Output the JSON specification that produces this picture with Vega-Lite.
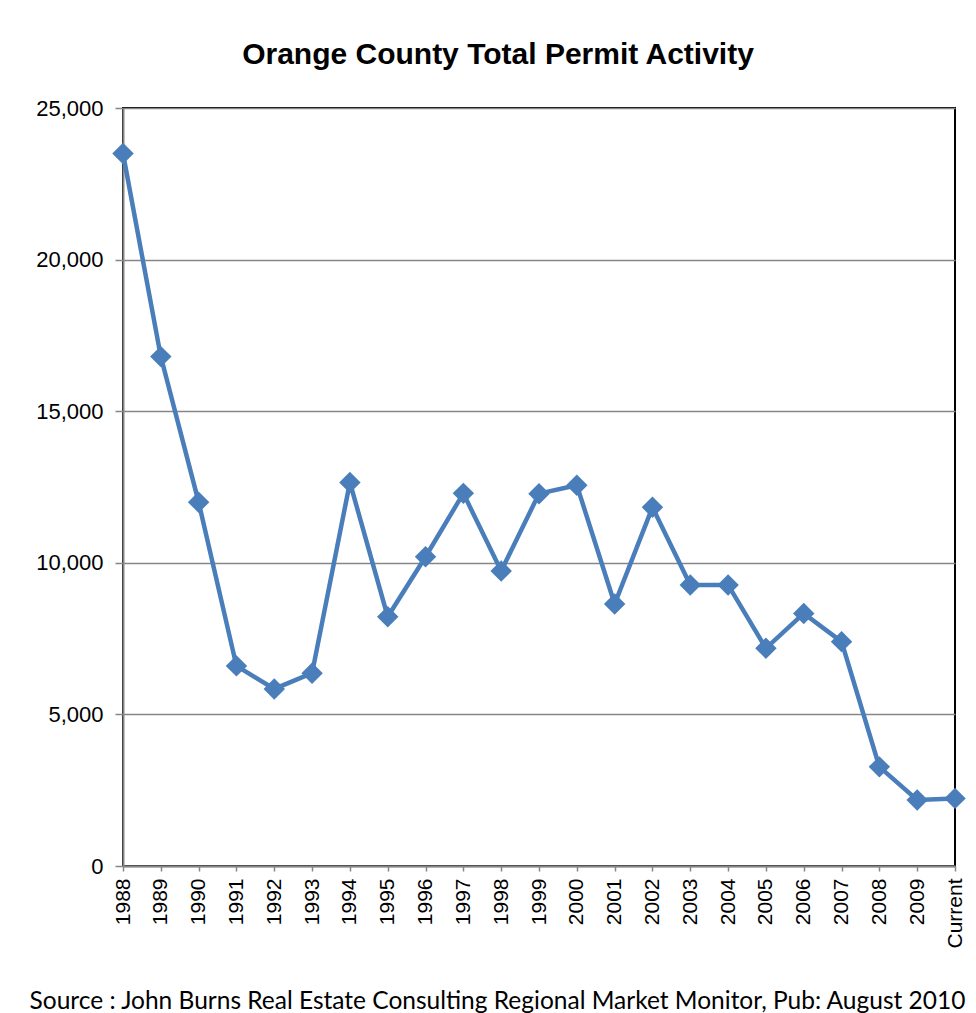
{
  "$schema": "https://vega.github.io/schema/vega-lite/v6.json",
  "autosize": "none",
  "width": 832,
  "height": 758,
  "padding": {"left": 123, "top": 108, "right": 21, "bottom": 147},
  "background": "white",
  "title": {
    "text": "Orange County Total Permit Activity",
    "font": "Liberation Sans",
    "fontSize": 30,
    "fontWeight": "bold",
    "color": "black",
    "anchor": "middle",
    "baseline": "alphabetic",
    "offset": 43,
    "dx": -41,
    "dy": 40
  },
  "data": {
    "values": [
      {"year": "1988", "permits": 23500},
      {"year": "1989", "permits": 16800},
      {"year": "1990", "permits": 12000},
      {"year": "1991", "permits": 6600},
      {"year": "1992", "permits": 5840},
      {"year": "1993", "permits": 6360},
      {"year": "1994", "permits": 12650},
      {"year": "1995", "permits": 8220},
      {"year": "1996", "permits": 10200},
      {"year": "1997", "permits": 12290},
      {"year": "1998", "permits": 9730},
      {"year": "1999", "permits": 12280},
      {"year": "2000", "permits": 12560},
      {"year": "2001", "permits": 8640},
      {"year": "2002", "permits": 11830},
      {"year": "2003", "permits": 9270},
      {"year": "2004", "permits": 9270},
      {"year": "2005", "permits": 7180},
      {"year": "2006", "permits": 8330},
      {"year": "2007", "permits": 7400},
      {"year": "2008", "permits": 3270},
      {"year": "2009", "permits": 2180},
      {"year": "Current", "permits": 2230}
    ]
  },
  "mark": {
    "type": "line",
    "color": "#4a7ebb",
    "strokeWidth": 4.5,
    "point": {"shape": "diamond", "size": 460, "filled": true, "color": "#4a7ebb", "opacity": 1}
  },
  "encoding": {
    "x": {
      "field": "year",
      "type": "ordinal",
      "sort": null,
      "scale": {"type": "point", "padding": 0},
      "axis": {
        "title": "Source : John Burns Real Estate Consulting Regional Market Monitor, Pub: August 2010",
        "titleFont": "Lato",
        "titleFontSize": 24.5,
        "titleFontWeight": "normal",
        "titleColor": "black",
        "titleAnchor": "middle",
        "titleX": 374,
        "titleY": 142,
        "titleBaseline": "alphabetic",
        "labelAngle": -90,
        "labelFont": "Liberation Sans",
        "labelFontSize": 21,
        "labelColor": "black",
        "labelPadding": 7,
        "labelOverlap": false,
        "labelBound": false,
        "labelFlush": false,
        "tickSize": 5,
        "tickColor": "#868686",
        "tickWidth": 1.5,
        "domainColor": "#868686",
        "domainWidth": 2,
        "grid": false
      }
    },
    "y": {
      "field": "permits",
      "type": "quantitative",
      "scale": {"domain": [0, 25000], "nice": false},
      "axis": {
        "title": null,
        "values": [0, 5000, 10000, 15000, 20000, 25000],
        "format": ",d",
        "labelFont": "Liberation Sans",
        "labelFontSize": 22,
        "labelColor": "black",
        "labelPadding": 12,
        "labelFlush": false,
        "tickSize": 8,
        "tickColor": "#868686",
        "tickWidth": 1.5,
        "domainColor": "#868686",
        "domainWidth": 2,
        "grid": true,
        "gridColor": "#868686",
        "gridWidth": 1.5,
        "gridOpacity": 1
      }
    }
  },
  "config": {
    "view": {"stroke": "black", "strokeWidth": 2}
  }
}
